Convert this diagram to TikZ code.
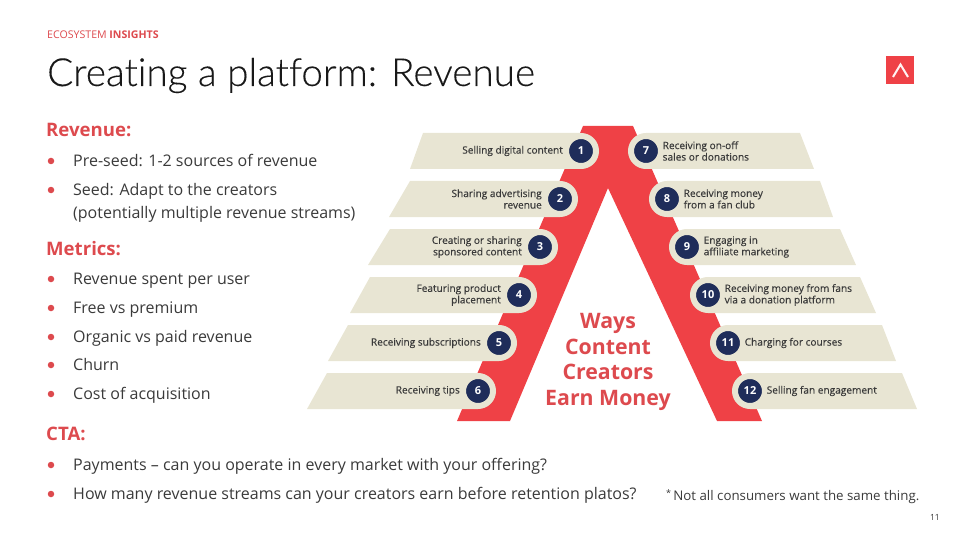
\documentclass[tikz,border=0pt]{standalone}
\usepackage{fontspec}
\setmainfont{Open Sans}
\newfontfamily\titlefont[Ligatures=NoCommon,FakeBold=0.15]{Lato Light}
\newfontfamily\tagfont[FakeBold=0.3]{Open Sans}
\usetikzlibrary{positioning}
\definecolor{slidered}{HTML}{EF4146}
\definecolor{headred}{HTML}{DD4A4E}
\definecolor{navy}{HTML}{1F2D5A}
\definecolor{cream}{HTML}{E8E5D3}
\definecolor{bodygray}{HTML}{3A3A3A}
\tikzset{
  bar/.style={fill=cream},
  numdot/.style={circle,fill=navy,draw=cream,line width=6pt,minimum size=30pt,inner sep=0pt,text=white,font=\fontsize{11}{11}\selectfont\bfseries},
  lefttag/.style={inner sep=0pt,align=right,text=bodygray,font=\fontsize{10.1}{11.5}\tagfont},
  righttag/.style={inner sep=0pt,align=left,text=bodygray,font=\fontsize{10.1}{11.5}\tagfont},
  head/.style={anchor=base west,inner sep=0pt,text=headred,font=\fontsize{18.6}{22}\selectfont\bfseries},
  item/.style={anchor=base west,inner sep=0pt,text=bodygray,font=\fontsize{16}{22}\selectfont},
  dot/.style={circle,fill=headred,minimum size=6.5pt,inner sep=0pt}
}
\begin{document}
\begin{tikzpicture}[x=1pt,y=-1pt]
  \useasboundingbox (0,0) rectangle (960,540);
  \node[anchor=base west,inner sep=0pt,text=headred,font=\fontsize{10.6}{12}\selectfont] (brand) at (47,39) {ECOSYSTEM \textbf{INSIGHTS}};
  \node[anchor=base west,inner sep=0pt,text=black!90,font=\fontsize{38.7}{44}\titlefont] (title) at (47,86) {Creating a platform: Revenue};
  \node[fill=slidered,minimum size=28pt,inner sep=0pt] (logo) at (900,70) {};
  \draw[white!95!red,line width=2pt] (893,77)--(900.5,64.5)--(908,77);

  % left column
  \node[head] (revhead) at (46,137) {Revenue:};
  \node[dot] (d1) at (51,161) {};
  \node[item] (i1) at (73,166.5) {Pre-seed: 1-2 sources of revenue};
  \node[dot] (d2) at (51,190) {};
  \node[item] (i2) at (73,195) {Seed: Adapt to the creators};
  \node[item] (i2b) at (73,218) {(potentially multiple revenue streams)};
  \node[head] (methead) at (46,255) {Metrics:};
  \node[dot] (d3) at (51,279) {};
  \node[item] (i3) at (73,284.3) {Revenue spent per user};
  \node[dot] (d4) at (51,308) {};
  \node[item] (i4) at (73,313.3) {Free vs premium};
  \node[dot] (d5) at (51,337) {};
  \node[item] (i5) at (73,342.3) {Organic vs paid revenue};
  \node[dot] (d6) at (51,365) {};
  \node[item] (i6) at (73,370.3) {Churn};
  \node[dot] (d7) at (51,394) {};
  \node[item] (i7) at (73,399.3) {Cost of acquisition};
  \node[head] (ctahead) at (46,440) {CTA:};
  \node[dot] (d8) at (51,465) {};
  \node[item] (i8) at (73,470.3) {Payments -- can you operate in every market with your offering?};
  \node[dot] (d9) at (51,494) {};
  \node[item] (i9) at (73,499.3) {How many revenue streams can your creators earn before retention platos?};

  % the red peak
  \fill[slidered] (583,126)--(633,126)--(762,421)--(717,421)--(608,188)--(510,421)--(457,421)--cycle;

  \fill[bar] (423,133)--(581,133)--(581,169)--(410,169)--cycle;
  \fill[bar] (410,181)--(560,181)--(560,217)--(389,217)--cycle;
  \fill[bar] (390,229)--(540,229)--(540,265)--(368,265)--cycle;
  \fill[bar] (370,277)--(519,277)--(519,313)--(350,313)--cycle;
  \fill[bar] (348,325)--(499,325)--(499,361)--(328,361)--cycle;
  \fill[bar] (327,373)--(478,373)--(478,409)--(307,409)--cycle;
  \fill[bar] (646,133)--(800,133)--(814,169)--(646,169)--cycle;
  \fill[bar] (667,181)--(820,181)--(833,217)--(667,217)--cycle;
  \fill[bar] (687,229)--(840,229)--(856,265)--(687,265)--cycle;
  \fill[bar] (708,277)--(860,277)--(876,313)--(708,313)--cycle;
  \fill[bar] (728,325)--(882,325)--(896,361)--(728,361)--cycle;
  \fill[bar] (750,373)--(902,373)--(917,409)--(750,409)--cycle;

  \node[numdot] (n1) at (581,151) {1};
  \node[numdot] (n2) at (560,199) {2};
  \node[numdot] (n3) at (540,247) {3};
  \node[numdot] (n4) at (519,295) {4};
  \node[numdot] (n5) at (499,343) {5};
  \node[numdot] (n6) at (478,391) {6};
  \node[numdot] (n7) at (646,151) {7};
  \node[numdot] (n8) at (667,199) {8};
  \node[numdot] (n9) at (687,247) {9};
  \node[numdot] (n10) at (708,295) {10};
  \node[numdot] (n11) at (728,343) {11};
  \node[numdot] (n12) at (750,391) {12};

  \node[lefttag,left=0pt of n1] (t1) {Selling digital content};
  \node[lefttag,left=0pt of n2] (t2) {Sharing advertising\\revenue};
  \node[lefttag,left=0pt of n3] (t3) {Creating or sharing\\sponsored content};
  \node[lefttag,left=0pt of n4] (t4) {Featuring product\\placement};
  \node[lefttag,left=0pt of n5] (t5) {Receiving subscriptions};
  \node[lefttag,left=0pt of n6] (t6) {Receiving tips};
  \node[righttag,right=-1.5pt of n7] (t7) {Receiving on-off\\sales or donations};
  \node[righttag,right=-1.5pt of n8] (t8) {Receiving money\\from a fan club};
  \node[righttag,right=-1.5pt of n9] (t9) {Engaging in\\affiliate marketing};
  \node[righttag,right=-1.5pt of n10] (t10) {Receiving money from fans\\via a donation platform};
  \node[righttag,right=-1.5pt of n11] (t11) {Charging for courses};
  \node[righttag,right=-1.5pt of n12] (t12) {Selling fan engagement};

  \node[align=center,inner sep=0pt,text=headred,font=\fontsize{21.3}{25.6}\selectfont\bfseries] (ways) at (608,362) {Ways\\Content\\Creators\\Earn Money};

  \node[anchor=base west,inner sep=0pt,text=bodygray,font=\fontsize{13.3}{15}\selectfont] (note) at (666,500) {\raisebox{4pt}{\fontsize{9}{9}\selectfont *}\,Not all consumers want the same thing.};
  \node[anchor=base east,inner sep=0pt,text=bodygray,font=\fontsize{8.5}{10}\selectfont] (page) at (940,520) {11};
\end{tikzpicture}
\end{document}
